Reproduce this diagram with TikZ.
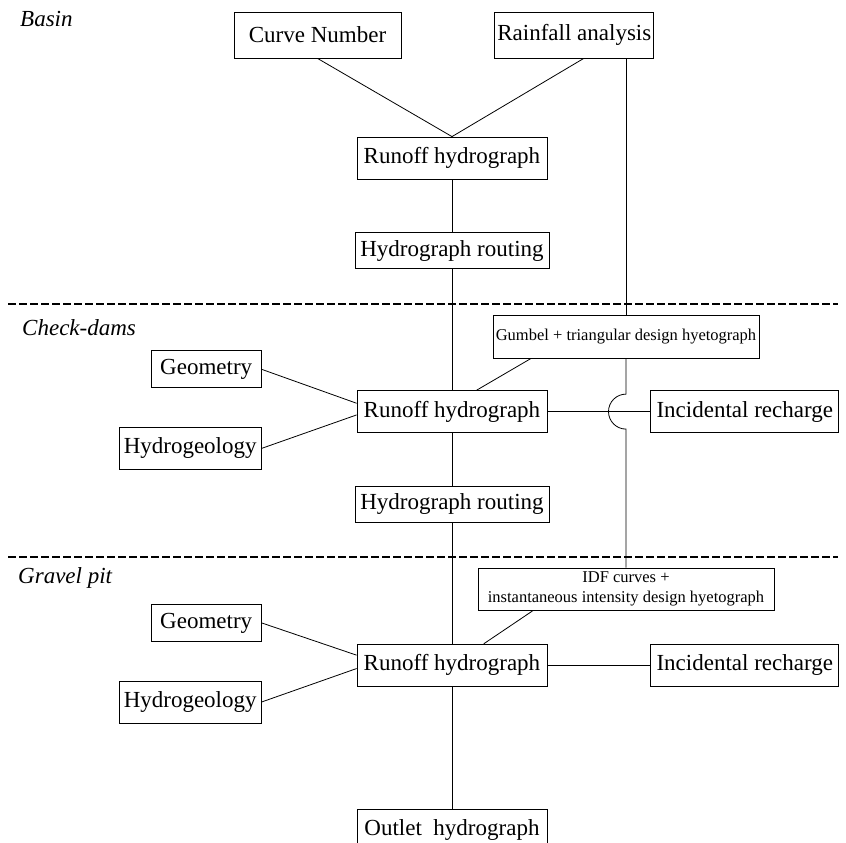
\documentclass[tikz,border=0pt]{standalone}
\usepackage{fontspec}
\setmainfont{Liberation Serif}
\usetikzlibrary{positioning}
\tikzstyle{block} = [rectangle, draw, line width=0.8pt, inner sep=0pt, minimum width=190pt, minimum height=42pt, font=\fontsize{23}{27}\selectfont]
\tikzstyle{blocks} = [rectangle, draw, line width=0.8pt, inner sep=0pt, minimum height=42pt, align=center, font=\fontsize{16.5}{19.5}\selectfont]
\tikzstyle{line} = [draw, line width=0.8pt]
\tikzstyle{stage} = [anchor=west, inner sep=0pt, font=\fontsize{23}{27}\selectfont\itshape]
\tikzstyle{border} = [draw, line width=1.6pt, dash pattern=on 8pt off 3pt]

\begin{document}
\begin{tikzpicture}[x=1pt, y=-1pt]
    \useasboundingbox (0,0) rectangle (846,843);
    % basin
    \node [stage] (basin) at (20,19) {Basin};
    \node [block, minimum width=167pt, minimum height=46pt] (cn) at (317.5,35) {Curve Number};
    \node [block, minimum width=159pt, minimum height=46pt, right=93pt of cn] (rain) {Rainfall analysis};
    \node [block] (rh1) at (452,158) {Runoff hydrograph};
    \node [block, minimum width=194pt, minimum height=36pt, below=53pt of rh1] (hr1) {Hydrograph routing};
    \path [line] (cn.south) -- (rh1.north);
    \path [line] (rain.-68) -- (rh1.north);
    \path [line] (rh1) -- (hr1);
    \path [border] (8,304) -- (838,304);
    % check-dams
    \node [stage] (check) at (22,328) {Check-dams};
    \node [block, below=121pt of hr1] (rh2) {Runoff hydrograph};
    \node [block, minimum width=194pt, minimum height=36pt, below=53pt of rh2] (hr2) {Hydrograph routing};
    \node [blocks, minimum width=266pt, minimum height=43pt] (gum) at (626,336.5) {Gumbel + triangular design hyetograph};
    \node [block, minimum width=110pt, minimum height=37pt, above left=2pt and 95pt of rh2] (geo2) {Geometry};
    \node [block, minimum width=142pt, below left=-6pt and 95pt of rh2] (hyd2) {Hydrogeology};
    \node [block, minimum width=188pt, right=103pt of rh2] (inc2) {Incidental recharge};
    \path [line] (hr1) -- (rh2);
    \path [line] (gum.north |- rain.south) -- (gum.north);
    \path [line] (gum.193) -- (rh2.41);
    \path [line] (geo2.east) -- (rh2.175);
    \path [line] (hyd2.east) -- (rh2.182);
    \path [line] (rh2) -- (inc2);
    \path [line] (rh2) -- (hr2);
    \path [border] (8,557) -- (838,557);
    % gravel pit
    \node [stage] (gravel) at (18,578) {Gravel pit};
    \node [block, below=121pt of hr2] (rh3) {Runoff hydrograph};
    \node [blocks, minimum width=296pt] (idf) at (626,589) {IDF curves +\\ instantaneous intensity design hyetograph};
    \node [block, minimum width=110pt, minimum height=37pt, above left=2pt and 95pt of rh3] (geo3) {Geometry};
    \node [block, minimum width=142pt, below left=-6pt and 95pt of rh3] (hyd3) {Hydrogeology};
    \node [block, minimum width=188pt, right=103pt of rh3] (inc3) {Incidental recharge};
    \node [block, below=122pt of rh3] (out) {Outlet\ \ hydrograph};
    \coordinate (jump) at (gum.south |- rh2.east);
    \path [line] (gum.south) -- ([yshift=17.5pt]jump) arc [start angle=90, end angle=270, radius=17.5pt] -- (idf.north);
    \path [line] (hr2) -- (rh3);
    \path [line] (idf.193) -- (rh3.34);
    \path [line] (geo3.east) -- (rh3.174);
    \path [line] (hyd3.east) -- (rh3.182);
    \path [line] (rh3) -- (inc3);
    \path [line] (rh3) -- (out);
\end{tikzpicture}
\end{document}
